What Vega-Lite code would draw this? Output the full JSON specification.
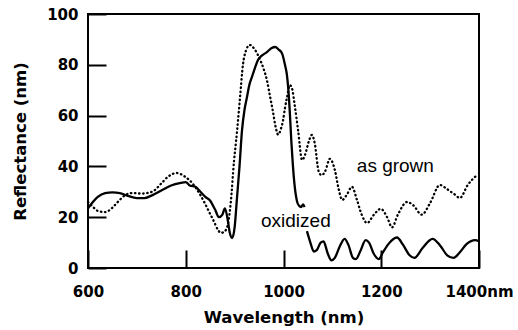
{
  "$schema": "https://vega.github.io/schema/vega-lite/v6.json",
  "autosize": {"type": "none"},
  "width": 391,
  "height": 254,
  "padding": {"left": 88, "top": 14, "right": 39, "bottom": 62},
  "background": "white",
  "config": {
    "view": {"stroke": "black", "strokeWidth": 2},
    "axis": {
      "domain": false, "grid": false, "ticks": true, "tickColor": "black", "tickWidth": 2, "tickSize": -18, "labelFlush": false, "labelOverlap": false,
      "labelFont": "DejaVu Sans", "labelFontWeight": "bold", "labelFontSize": 15, "labelColor": "black",
      "titleFont": "DejaVu Sans", "titleFontWeight": "bold", "titleFontSize": 16.5, "titleColor": "black"
    }
  },
  "datasets": {
    "curves": [
      {"series": "as grown", "segment": "g", "wavelength": 600, "reflectance": 26},
      {"series": "as grown", "segment": "g", "wavelength": 608, "reflectance": 24.5},
      {"series": "as grown", "segment": "g", "wavelength": 620, "reflectance": 22.5},
      {"series": "as grown", "segment": "g", "wavelength": 635, "reflectance": 22},
      {"series": "as grown", "segment": "g", "wavelength": 649, "reflectance": 23.6},
      {"series": "as grown", "segment": "g", "wavelength": 661, "reflectance": 26},
      {"series": "as grown", "segment": "g", "wavelength": 676, "reflectance": 28.7},
      {"series": "as grown", "segment": "g", "wavelength": 690, "reflectance": 29.5},
      {"series": "as grown", "segment": "g", "wavelength": 710, "reflectance": 29.3},
      {"series": "as grown", "segment": "g", "wavelength": 731, "reflectance": 30},
      {"series": "as grown", "segment": "g", "wavelength": 751, "reflectance": 33.5},
      {"series": "as grown", "segment": "g", "wavelength": 764, "reflectance": 36},
      {"series": "as grown", "segment": "g", "wavelength": 782, "reflectance": 37.4},
      {"series": "as grown", "segment": "g", "wavelength": 798, "reflectance": 36},
      {"series": "as grown", "segment": "g", "wavelength": 813, "reflectance": 33.5},
      {"series": "as grown", "segment": "g", "wavelength": 829, "reflectance": 29},
      {"series": "as grown", "segment": "g", "wavelength": 839, "reflectance": 25.5},
      {"series": "as grown", "segment": "g", "wavelength": 848, "reflectance": 22},
      {"series": "as grown", "segment": "g", "wavelength": 856, "reflectance": 19},
      {"series": "as grown", "segment": "g", "wavelength": 866, "reflectance": 15},
      {"series": "as grown", "segment": "g", "wavelength": 872, "reflectance": 13.8},
      {"series": "as grown", "segment": "g", "wavelength": 880, "reflectance": 14.5},
      {"series": "as grown", "segment": "g", "wavelength": 886, "reflectance": 17},
      {"series": "as grown", "segment": "g", "wavelength": 890, "reflectance": 22},
      {"series": "as grown", "segment": "g", "wavelength": 894, "reflectance": 30},
      {"series": "as grown", "segment": "g", "wavelength": 897, "reflectance": 38},
      {"series": "as grown", "segment": "g", "wavelength": 905, "reflectance": 54},
      {"series": "as grown", "segment": "g", "wavelength": 911, "reflectance": 67},
      {"series": "as grown", "segment": "g", "wavelength": 917, "reflectance": 80},
      {"series": "as grown", "segment": "g", "wavelength": 923, "reflectance": 85.5},
      {"series": "as grown", "segment": "g", "wavelength": 931, "reflectance": 87.8},
      {"series": "as grown", "segment": "g", "wavelength": 942, "reflectance": 85.8},
      {"series": "as grown", "segment": "g", "wavelength": 952, "reflectance": 82},
      {"series": "as grown", "segment": "g", "wavelength": 960, "reflectance": 78},
      {"series": "as grown", "segment": "g", "wavelength": 966, "reflectance": 74},
      {"series": "as grown", "segment": "g", "wavelength": 972, "reflectance": 68},
      {"series": "as grown", "segment": "g", "wavelength": 978, "reflectance": 62},
      {"series": "as grown", "segment": "g", "wavelength": 984, "reflectance": 55.5},
      {"series": "as grown", "segment": "g", "wavelength": 989, "reflectance": 52.5},
      {"series": "as grown", "segment": "g", "wavelength": 995, "reflectance": 55},
      {"series": "as grown", "segment": "g", "wavelength": 999, "reflectance": 58},
      {"series": "as grown", "segment": "g", "wavelength": 1003, "reflectance": 63},
      {"series": "as grown", "segment": "g", "wavelength": 1007, "reflectance": 67},
      {"series": "as grown", "segment": "g", "wavelength": 1013, "reflectance": 72},
      {"series": "as grown", "segment": "g", "wavelength": 1017, "reflectance": 71},
      {"series": "as grown", "segment": "g", "wavelength": 1023, "reflectance": 64},
      {"series": "as grown", "segment": "g", "wavelength": 1030, "reflectance": 54},
      {"series": "as grown", "segment": "g", "wavelength": 1038, "reflectance": 42.5},
      {"series": "as grown", "segment": "g", "wavelength": 1044, "reflectance": 44.5},
      {"series": "as grown", "segment": "g", "wavelength": 1052, "reflectance": 50},
      {"series": "as grown", "segment": "g", "wavelength": 1058, "reflectance": 52.4},
      {"series": "as grown", "segment": "g", "wavelength": 1064, "reflectance": 49},
      {"series": "as grown", "segment": "g", "wavelength": 1072, "reflectance": 38},
      {"series": "as grown", "segment": "g", "wavelength": 1078, "reflectance": 36.5},
      {"series": "as grown", "segment": "g", "wavelength": 1085, "reflectance": 38},
      {"series": "as grown", "segment": "g", "wavelength": 1095, "reflectance": 43},
      {"series": "as grown", "segment": "g", "wavelength": 1105, "reflectance": 38.6},
      {"series": "as grown", "segment": "g", "wavelength": 1113, "reflectance": 31},
      {"series": "as grown", "segment": "g", "wavelength": 1120, "reflectance": 26.8},
      {"series": "as grown", "segment": "g", "wavelength": 1130, "reflectance": 29},
      {"series": "as grown", "segment": "g", "wavelength": 1140, "reflectance": 32},
      {"series": "as grown", "segment": "g", "wavelength": 1150, "reflectance": 27},
      {"series": "as grown", "segment": "g", "wavelength": 1160, "reflectance": 21},
      {"series": "as grown", "segment": "g", "wavelength": 1171, "reflectance": 17.7},
      {"series": "as grown", "segment": "g", "wavelength": 1185, "reflectance": 21},
      {"series": "as grown", "segment": "g", "wavelength": 1199, "reflectance": 23.3},
      {"series": "as grown", "segment": "g", "wavelength": 1212, "reflectance": 20},
      {"series": "as grown", "segment": "g", "wavelength": 1222, "reflectance": 16},
      {"series": "as grown", "segment": "g", "wavelength": 1234, "reflectance": 21},
      {"series": "as grown", "segment": "g", "wavelength": 1253, "reflectance": 26},
      {"series": "as grown", "segment": "g", "wavelength": 1265, "reflectance": 24.8},
      {"series": "as grown", "segment": "g", "wavelength": 1283, "reflectance": 21},
      {"series": "as grown", "segment": "g", "wavelength": 1300, "reflectance": 25.6},
      {"series": "as grown", "segment": "g", "wavelength": 1320, "reflectance": 32.7},
      {"series": "as grown", "segment": "g", "wavelength": 1335, "reflectance": 31},
      {"series": "as grown", "segment": "g", "wavelength": 1350, "reflectance": 29},
      {"series": "as grown", "segment": "g", "wavelength": 1361, "reflectance": 27.6},
      {"series": "as grown", "segment": "g", "wavelength": 1377, "reflectance": 32.7},
      {"series": "as grown", "segment": "g", "wavelength": 1396, "reflectance": 36.6},

      {"series": "oxidized", "segment": "a", "wavelength": 600, "reflectance": 23.5},
      {"series": "oxidized", "segment": "a", "wavelength": 610, "reflectance": 26},
      {"series": "oxidized", "segment": "a", "wavelength": 620, "reflectance": 28},
      {"series": "oxidized", "segment": "a", "wavelength": 635, "reflectance": 29.5},
      {"series": "oxidized", "segment": "a", "wavelength": 650, "reflectance": 29.8},
      {"series": "oxidized", "segment": "a", "wavelength": 665, "reflectance": 29.5},
      {"series": "oxidized", "segment": "a", "wavelength": 680, "reflectance": 28.5},
      {"series": "oxidized", "segment": "a", "wavelength": 700, "reflectance": 27.5},
      {"series": "oxidized", "segment": "a", "wavelength": 715, "reflectance": 27.5},
      {"series": "oxidized", "segment": "a", "wavelength": 730, "reflectance": 28.5},
      {"series": "oxidized", "segment": "a", "wavelength": 750, "reflectance": 30.5},
      {"series": "oxidized", "segment": "a", "wavelength": 770, "reflectance": 32.5},
      {"series": "oxidized", "segment": "a", "wavelength": 790, "reflectance": 33.5},
      {"series": "oxidized", "segment": "a", "wavelength": 800, "reflectance": 33.8},
      {"series": "oxidized", "segment": "a", "wavelength": 808, "reflectance": 32.5},
      {"series": "oxidized", "segment": "a", "wavelength": 820, "reflectance": 32},
      {"series": "oxidized", "segment": "a", "wavelength": 830, "reflectance": 30},
      {"series": "oxidized", "segment": "a", "wavelength": 840, "reflectance": 28},
      {"series": "oxidized", "segment": "a", "wavelength": 850, "reflectance": 26.5},
      {"series": "oxidized", "segment": "a", "wavelength": 860, "reflectance": 23},
      {"series": "oxidized", "segment": "a", "wavelength": 868, "reflectance": 20},
      {"series": "oxidized", "segment": "a", "wavelength": 875, "reflectance": 21},
      {"series": "oxidized", "segment": "a", "wavelength": 880, "reflectance": 23.5},
      {"series": "oxidized", "segment": "a", "wavelength": 885, "reflectance": 20},
      {"series": "oxidized", "segment": "a", "wavelength": 890, "reflectance": 14},
      {"series": "oxidized", "segment": "a", "wavelength": 895, "reflectance": 11.8},
      {"series": "oxidized", "segment": "a", "wavelength": 900, "reflectance": 16},
      {"series": "oxidized", "segment": "a", "wavelength": 905, "reflectance": 28},
      {"series": "oxidized", "segment": "a", "wavelength": 910, "reflectance": 40},
      {"series": "oxidized", "segment": "a", "wavelength": 915, "reflectance": 54},
      {"series": "oxidized", "segment": "a", "wavelength": 920, "reflectance": 62},
      {"series": "oxidized", "segment": "a", "wavelength": 925, "reflectance": 67},
      {"series": "oxidized", "segment": "a", "wavelength": 930, "reflectance": 72},
      {"series": "oxidized", "segment": "a", "wavelength": 936, "reflectance": 75.5},
      {"series": "oxidized", "segment": "a", "wavelength": 942, "reflectance": 79},
      {"series": "oxidized", "segment": "a", "wavelength": 948, "reflectance": 82},
      {"series": "oxidized", "segment": "a", "wavelength": 955, "reflectance": 83.5},
      {"series": "oxidized", "segment": "a", "wavelength": 966, "reflectance": 85},
      {"series": "oxidized", "segment": "a", "wavelength": 975, "reflectance": 86.5},
      {"series": "oxidized", "segment": "a", "wavelength": 983, "reflectance": 87},
      {"series": "oxidized", "segment": "a", "wavelength": 990, "reflectance": 86},
      {"series": "oxidized", "segment": "a", "wavelength": 997, "reflectance": 84.5},
      {"series": "oxidized", "segment": "a", "wavelength": 1003, "reflectance": 80},
      {"series": "oxidized", "segment": "a", "wavelength": 1007, "reflectance": 76},
      {"series": "oxidized", "segment": "a", "wavelength": 1010, "reflectance": 70},
      {"series": "oxidized", "segment": "a", "wavelength": 1013, "reflectance": 61},
      {"series": "oxidized", "segment": "a", "wavelength": 1016, "reflectance": 50},
      {"series": "oxidized", "segment": "a", "wavelength": 1019, "reflectance": 41},
      {"series": "oxidized", "segment": "a", "wavelength": 1023, "reflectance": 32},
      {"series": "oxidized", "segment": "a", "wavelength": 1028, "reflectance": 26},
      {"series": "oxidized", "segment": "a", "wavelength": 1032, "reflectance": 24.5},
      {"series": "oxidized", "segment": "a", "wavelength": 1036, "reflectance": 24},
      {"series": "oxidized", "segment": "a", "wavelength": 1040, "reflectance": 25},
      {"series": "oxidized", "segment": "a", "wavelength": 1043, "reflectance": 24},

      {"series": "oxidized", "segment": "b", "wavelength": 1048, "reflectance": 14.5},
      {"series": "oxidized", "segment": "b", "wavelength": 1055, "reflectance": 10},
      {"series": "oxidized", "segment": "b", "wavelength": 1062, "reflectance": 6.5},
      {"series": "oxidized", "segment": "b", "wavelength": 1068, "reflectance": 7},
      {"series": "oxidized", "segment": "b", "wavelength": 1076, "reflectance": 10},
      {"series": "oxidized", "segment": "b", "wavelength": 1082, "reflectance": 10.5},
      {"series": "oxidized", "segment": "b", "wavelength": 1090, "reflectance": 6},
      {"series": "oxidized", "segment": "b", "wavelength": 1098, "reflectance": 3},
      {"series": "oxidized", "segment": "b", "wavelength": 1105, "reflectance": 4},
      {"series": "oxidized", "segment": "b", "wavelength": 1115, "reflectance": 8.5},
      {"series": "oxidized", "segment": "b", "wavelength": 1125, "reflectance": 11.5},
      {"series": "oxidized", "segment": "b", "wavelength": 1133, "reflectance": 9},
      {"series": "oxidized", "segment": "b", "wavelength": 1142, "reflectance": 4},
      {"series": "oxidized", "segment": "b", "wavelength": 1148, "reflectance": 3.5},
      {"series": "oxidized", "segment": "b", "wavelength": 1158, "reflectance": 7},
      {"series": "oxidized", "segment": "b", "wavelength": 1168, "reflectance": 11},
      {"series": "oxidized", "segment": "b", "wavelength": 1175, "reflectance": 10},
      {"series": "oxidized", "segment": "b", "wavelength": 1185, "reflectance": 5.5},
      {"series": "oxidized", "segment": "b", "wavelength": 1195, "reflectance": 3.5},
      {"series": "oxidized", "segment": "b", "wavelength": 1203, "reflectance": 6},
      {"series": "oxidized", "segment": "b", "wavelength": 1215, "reflectance": 9.5},
      {"series": "oxidized", "segment": "b", "wavelength": 1232, "reflectance": 12},
      {"series": "oxidized", "segment": "b", "wavelength": 1245, "reflectance": 9},
      {"series": "oxidized", "segment": "b", "wavelength": 1258, "reflectance": 5},
      {"series": "oxidized", "segment": "b", "wavelength": 1268, "reflectance": 4},
      {"series": "oxidized", "segment": "b", "wavelength": 1285, "reflectance": 8},
      {"series": "oxidized", "segment": "b", "wavelength": 1305, "reflectance": 11.5},
      {"series": "oxidized", "segment": "b", "wavelength": 1320, "reflectance": 9},
      {"series": "oxidized", "segment": "b", "wavelength": 1335, "reflectance": 5},
      {"series": "oxidized", "segment": "b", "wavelength": 1348, "reflectance": 4},
      {"series": "oxidized", "segment": "b", "wavelength": 1360, "reflectance": 6},
      {"series": "oxidized", "segment": "b", "wavelength": 1375, "reflectance": 9.5},
      {"series": "oxidized", "segment": "b", "wavelength": 1392, "reflectance": 11},
      {"series": "oxidized", "segment": "b", "wavelength": 1400, "reflectance": 10.5}
    ],
    "labels": [
      {"text": "as grown", "wavelength": 1150, "reflectance": 37.8},
      {"text": "oxidized", "wavelength": 954, "reflectance": 16.1}
    ]
  },
  "data": {"name": "curves"},
  "encoding": {
    "x": {
      "field": "wavelength", "type": "quantitative",
      "scale": {"domain": [600, 1400], "nice": false, "zero": false},
      "axis": {"title": "Wavelength (nm)", "values": [600, 800, 1000, 1200, 1400], "labelPadding": 34, "titlePadding": 10,
               "labelExpr": "datum.value == 1400 ? '1400nm' : datum.label", "format": "d"}
    },
    "y": {
      "field": "reflectance", "type": "quantitative",
      "scale": {"domain": [0, 100], "nice": false},
      "axis": {"title": "Reflectance (nm)", "values": [0, 20, 40, 60, 80, 100], "labelPadding": 28, "titlePadding": 18}
    }
  },
  "layer": [
    {
      "transform": [{"filter": "datum.series == 'as grown'"}],
      "mark": {"type": "line", "color": "black", "strokeWidth": 2.3, "strokeDash": [0.5, 3.6], "strokeCap": "round", "interpolate": "monotone"}
    },
    {
      "transform": [{"filter": "datum.series == 'oxidized'"}],
      "mark": {"type": "line", "color": "black", "strokeWidth": 2.3, "interpolate": "monotone"},
      "encoding": {"detail": {"field": "segment"}}
    },
    {
      "data": {"name": "labels"},
      "mark": {"type": "text", "font": "Liberation Sans", "fontSize": 19, "align": "left", "baseline": "alphabetic", "color": "black"},
      "encoding": {"text": {"field": "text"}}
    }
  ]
}
